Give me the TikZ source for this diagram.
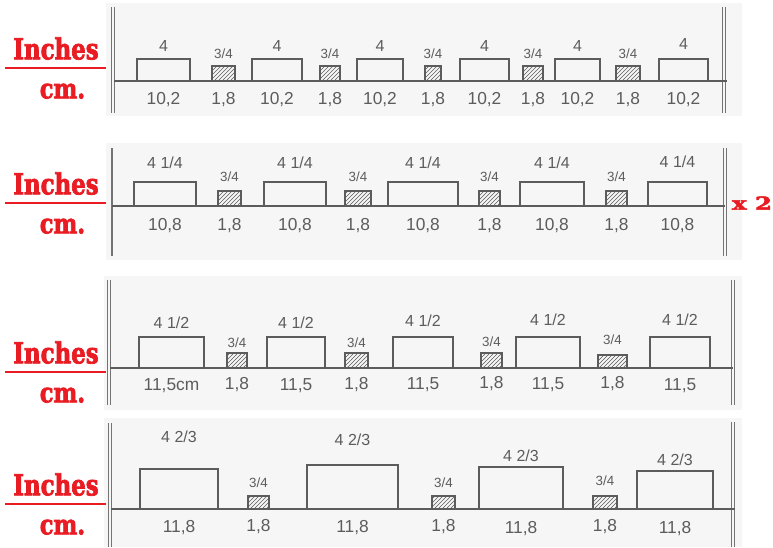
\documentclass[tikz,border=0pt]{standalone}
\usepackage{fontspec}
\setmainfont{Liberation Sans}
\newfontfamily\slabfont{DejaVu Serif}[FakeBold=2.8]
\usetikzlibrary{fit,patterns}
\definecolor{redlab}{RGB}{232,28,34}
\definecolor{pencil}{RGB}{92,92,92}
\definecolor{paper}{RGB}{246,246,246}
\tikzset{
  bigbox/.style={draw=pencil, line width=0.95pt, inner sep=0pt, outer sep=0pt},
  hatchbox/.style={draw=pencil, line width=0.95pt, inner sep=0pt, outer sep=0pt,
    pattern=north east lines, pattern color=pencil},
  toplab/.style={text=pencil, inner sep=0pt, font=\fontsize{12}{14}\selectfont},
  fraclab/.style={text=pencil, inner sep=0pt, font=\fontsize{10}{12}\selectfont},
  cmlab/.style={text=pencil, inner sep=0pt, font=\fontsize{13}{15}\selectfont},
  groundline/.style={draw=pencil, line width=0.9pt},
  wall/.style={draw=pencil!85, line width=0.55pt, double=paper, double distance=1.6pt},
  singlewall/.style={draw=pencil!85, line width=1.1pt},
  redrule/.style={draw=redlab, line width=1.6pt},
  inchlab/.style={text=redlab, inner sep=0pt, anchor=south},
  panel/.style={fill=paper, draw=none}
}
\newcommand\BigPiece[9]{%
  \node[bigbox, fit={(#2,#4) (#3,{#4-#5})}] (#1) {};
  \node[toplab] (#1t) at ({(#2+#3)/2},#7) {#6};
  \node[cmlab] (#1c) at ({(#2+#3)/2},#9) {#8};}
\newcommand\SmallPiece[9]{%
  \node[hatchbox, fit={(#2,#4) (#3,{#4-#5})}] (#1) {};
  \node[fraclab] (#1t) at ({(#2+#3)/2},#7) {#6};
  \node[cmlab] (#1c) at ({(#2+#3)/2},#9) {#8};}
\newcommand\RedLabels[2]{% name, rule y
  \coordinate (#1ra) at (5,#2);
  \coordinate (#1rb) at (106,#2);
  \draw[redrule] (#1ra) -- (#1rb);
  \node[inchlab] (#1in) at (56,{#2-8}) {\resizebox{64pt}{16.5pt}{\slabfont\bfseries Inches}};
  \node[inchlab] (#1cm) at (62.5,{#2+31}) {\resizebox{34pt}{11pt}{\slabfont\bfseries cm.}};}
\begin{document}
\begin{tikzpicture}[x=0.75pt,y=-0.75pt]
\useasboundingbox (0,0) rectangle (773,547);
% paper panels
\fill[panel] (106,3) rectangle (742,116);
\fill[panel] (106,143) rectangle (742,260);
\fill[panel] (104,276) rectangle (742,410);
\fill[panel] (104,418) rectangle (742,547);

% ---------- panel 1 ----------
\coordinate (w1a) at (113,7);   \coordinate (w1b) at (113,113);
\coordinate (w1c) at (724,7);   \coordinate (w1d) at (724,113);
\draw[wall] (w1a) -- (w1b);
\draw[wall] (w1c) -- (w1d);
\coordinate (g1a) at (114,81);  \coordinate (g1b) at (727,81);
\draw[groundline] (g1a) -- (g1b);
\BigPiece{a1}{137}{190}{81}{22}{4}{46}{10,2}{100}
\SmallPiece{a2}{212}{235}{81}{15}{3/4}{54}{1,8}{100}
\BigPiece{a3}{252}{302}{81}{22}{4}{46}{10,2}{100}
\SmallPiece{a4}{320}{340}{81}{15}{3/4}{54}{1,8}{100}
\BigPiece{a5}{357}{403}{81}{22}{4}{46}{10,2}{100}
\SmallPiece{a6}{425}{441}{81}{15}{3/4}{54}{1,8}{100}
\BigPiece{a7}{460}{509}{81}{22}{4}{46}{10,2}{100}
\SmallPiece{a8}{523}{543}{81}{15}{3/4}{54}{1,8}{100}
\BigPiece{a9}{555}{600}{81}{22}{4}{46}{10,2}{100}
\SmallPiece{a10}{616}{640}{81}{15}{3/4}{54}{1,8}{100}
\BigPiece{a11}{659}{708}{81}{22}{4}{44}{10,2}{100}
\RedLabels{r1}{68}

% ---------- panel 2 ----------
\coordinate (w2a) at (112,148); \coordinate (w2b) at (112,256);
\coordinate (w2c) at (725,148); \coordinate (w2d) at (725,256);
\draw[singlewall] (w2a) -- (w2b);
\draw[wall] (w2c) -- (w2d);
\coordinate (g2a) at (112,206); \coordinate (g2b) at (725,206);
\draw[groundline] (g2a) -- (g2b);
\BigPiece{b1}{134}{196}{206}{24}{4 1/4}{163}{10,8}{226}
\SmallPiece{b2}{218}{241}{206}{15}{3/4}{177}{1,8}{226}
\BigPiece{b3}{264}{326}{206}{24}{4 1/4}{163}{10,8}{226}
\SmallPiece{b4}{345}{371}{206}{15}{3/4}{177}{1,8}{226}
\BigPiece{b5}{388}{458}{206}{24}{4 1/4}{163}{10,8}{226}
\SmallPiece{b6}{479}{500}{206}{15}{3/4}{177}{1,8}{226}
\BigPiece{b7}{520}{584}{206}{24}{4 1/4}{163}{10,8}{226}
\SmallPiece{b8}{606}{627}{206}{15}{3/4}{177}{1,8}{226}
\BigPiece{b9}{648}{707}{206}{24}{4 1/4}{162}{10,8}{226}
\RedLabels{r2}{203}
\node[inchlab] (times) at (752,210) {\resizebox{30pt}{10pt}{\slabfont\bfseries x 2}};

% ---------- panel 3 ----------
\coordinate (w3a) at (109,280); \coordinate (w3b) at (109,405);
\coordinate (w3c) at (733,280); \coordinate (w3d) at (733,405);
\draw[wall] (w3a) -- (w3b);
\draw[wall] (w3c) -- (w3d);
\coordinate (g3a) at (110,368); \coordinate (g3b) at (733,368);
\draw[groundline] (g3a) -- (g3b);
\BigPiece{c1}{139}{204}{368}{31}{4 1/2}{323}{11,5cm}{386}
\SmallPiece{c2}{227}{247}{368}{15}{3/4}{343}{1,8}{385}
\BigPiece{c3}{267}{325}{368}{31}{4 1/2}{323}{11,5}{386}
\SmallPiece{c4}{345}{368}{368}{15}{3/4}{343}{1,8}{385}
\BigPiece{c5}{393}{453}{368}{31}{4 1/2}{321}{11,5}{385}
\SmallPiece{c6}{481}{502}{368}{15}{3/4}{342}{1,8}{384}
\BigPiece{c7}{516}{580}{368}{31}{4 1/2}{320}{11,5}{385}
\SmallPiece{c8}{598}{627}{368}{13}{3/4}{340}{1,8}{384}
\BigPiece{c9}{650}{710}{368}{31}{4 1/2}{320}{11,5}{386}
\RedLabels{r3}{372}

% ---------- panel 4 ----------
\coordinate (w4a) at (110,423); \coordinate (w4b) at (110,547);
\coordinate (w4c) at (733,422); \coordinate (w4d) at (733,547);
\draw[wall] (w4a) -- (w4b);
\draw[wall] (w4c) -- (w4d);
\coordinate (g4a) at (111,509); \coordinate (g4b) at (735,509);
\draw[groundline] (g4a) -- (g4b);
\BigPiece{d1}{140}{218}{509}{40}{4 2/3}{437}{11,8}{528}
\SmallPiece{d2}{248}{269}{509}{13}{3/4}{483}{1,8}{527}
\BigPiece{d3}{307}{398}{509}{44}{4 2/3}{440}{11,8}{528}
\SmallPiece{d4}{432}{455}{509}{13}{3/4}{483}{1,8}{527}
\BigPiece{d5}{479}{563}{509}{42}{4 2/3}{456}{11,8}{529}
\SmallPiece{d6}{593}{617}{509}{13}{3/4}{481}{1,8}{527}
\BigPiece{d7}{637}{713}{509}{38}{4 2/3}{460}{11,8}{529}
\RedLabels{r4}{504}
\end{tikzpicture}
\end{document}
